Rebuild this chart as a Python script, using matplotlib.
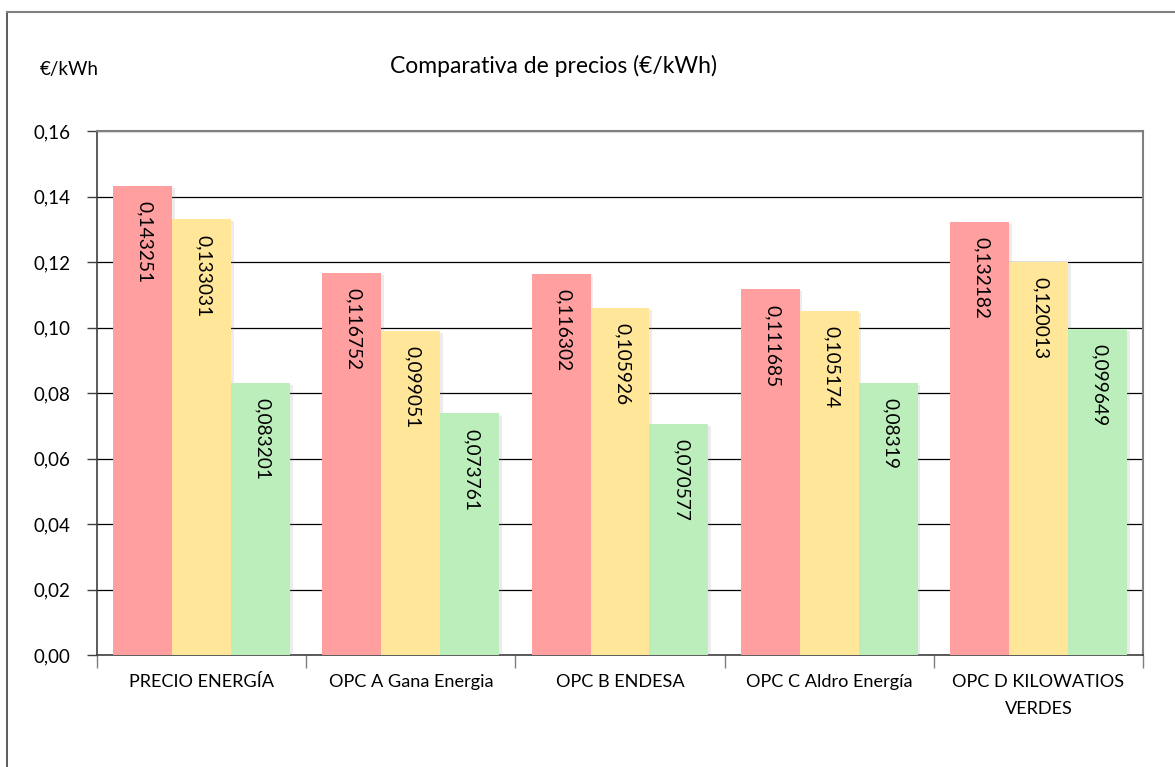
"""Comparativa de precios (EUR/kWh) - grouped bar chart."""
import matplotlib
matplotlib.use("Agg")
import matplotlib.pyplot as plt
import matplotlib.patheffects as pe
from matplotlib.lines import Line2D
import numpy as np

plt.rcParams['font.family'] = ['Lato', 'DejaVu Sans']

# Data
categories = ['PRECIO ENERGÍA', 'OPC A Gana Energia', 'OPC B ENDESA',
              'OPC C Aldro Energía', 'OPC D KILOWATIOS\nVERDES']
serie_1 = [0.143251, 0.116752, 0.116302, 0.111685, 0.132182]
serie_2 = [0.133031, 0.099051, 0.105926, 0.105174, 0.120013]
serie_3 = [0.083201, 0.073761, 0.070577, 0.08319, 0.099649]
series = [serie_1, serie_2, serie_3]
colors = ['#FF9F9F', '#FFE699', '#BCEEBC']
yticks = [0.00, 0.02, 0.04, 0.06, 0.08, 0.10, 0.12, 0.14, 0.16]

fig = plt.figure(figsize=(11.75, 7.67), dpi=100)
ax = fig.add_axes([97 / 1175, 1 - 655 / 767, (1143 - 97) / 1175, (655 - 131) / 767])

x = np.arange(len(categories))
width = 0.282
shadow = [pe.SimplePatchShadow(offset=(2, -1.5), shadow_rgbFace='#999999', alpha=0.18), pe.Normal()]

for i, (vals, col) in enumerate(zip(series, colors)):
    pos = x + (i - 1) * width
    ax.bar(pos, vals, width=width, color=col, zorder=3 + i * 0.1, path_effects=shadow)
    for xb, v in zip(pos, vals):
        ax.annotate(str(v).replace('.', ','), (xb, v), xytext=(1.5, -11),
                    textcoords='offset points', rotation=-90,
                    ha='center', va='top', fontsize=13.8, zorder=6)

ax.set_xlim(-0.5, len(categories) - 0.5)
ax.set_ylim(0, 0.16)
ax.set_yticks(yticks)
ax.set_yticklabels([f'{t:.2f}'.replace('.', ',') for t in yticks], fontsize=13.5)
ax.yaxis.grid(True, color='black', linewidth=0.9, zorder=0)
ax.set_axisbelow(True)

# category labels centered, ticks at boundaries
ax.set_xticks(x)
ax.set_xticklabels(categories, fontsize=13.1, linespacing=1.8)
ax.tick_params(axis='x', length=0, pad=14)
ax.set_xticks(np.arange(-0.5, len(categories)), minor=True)
ax.tick_params(axis='x', which='minor', length=9, color='#7f7f7f', width=1)
ax.tick_params(axis='y', length=7, color='#404040', width=1, pad=12)

for side in ['top', 'right']:
    ax.spines[side].set_color('#808080')
    ax.spines[side].set_linewidth(1.5)
for side in ['left', 'bottom']:
    ax.spines[side].set_color('#404040')
    ax.spines[side].set_linewidth(1.2)

fig.text(553 / 1175, 1 - 66 / 767, 'Comparativa de precios (€/kWh)',
         ha='center', va='center', fontsize=16.5)
fig.text(40 / 1175, 1 - 70 / 767, '€/kWh', ha='left', va='center', fontsize=13.5)

# outer chart border (left and top)
fig.add_artist(Line2D([7 / 1175, 7 / 1175], [0, 1 - 12 / 767], transform=fig.transFigure,
                      color='#404040', linewidth=1.2))
fig.add_artist(Line2D([7 / 1175, 1], [1 - 12 / 767, 1 - 12 / 767], transform=fig.transFigure,
                      color='#808080', linewidth=1.5))

fig.savefig('out.png', dpi=100)
